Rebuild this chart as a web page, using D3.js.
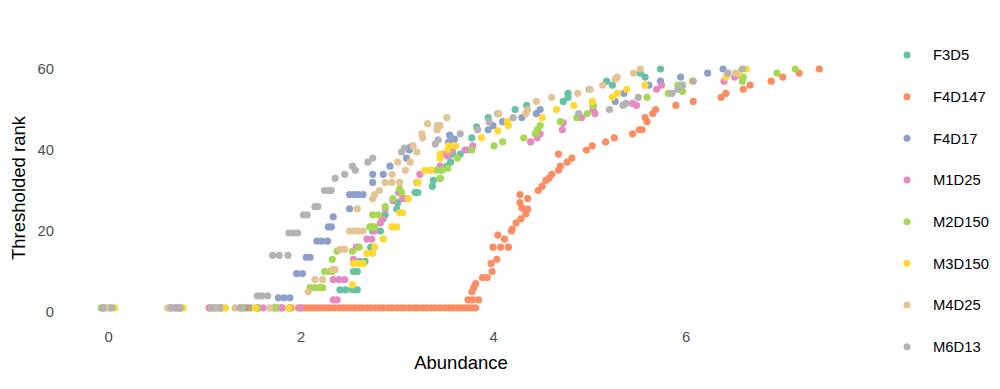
<!DOCTYPE html>
<html>
<head>
<meta charset="utf-8">
<script src="https://cdn.jsdelivr.net/npm/d3@7/dist/d3.min.js"></script>
<style>
  html, body { margin: 0; padding: 0; background: #fff; }
  svg { display: block; font-family: "Liberation Sans", Arial, sans-serif; }
</style>
</head>
<body>
<svg id="chart" width="1000" height="389"></svg>
<script>
// ---- data: [abundance, thresholded rank] ----
const samples = ["F3D5", "F4D147", "F4D17", "M1D25", "M2D150", "M3D150", "M4D25", "M6D13"];
const colors = ["#66C2A5", "#FC8D62", "#8DA0CB", "#E78AC3", "#A6D854", "#FFD92F", "#E5C494", "#B3B3B3"];
const xTicks = [0, 2, 4, 6];
const yTicks = [0, 20, 40, 60];

const F3D5 = [[0.02,1],[0.73,1],[1.18,1],[1.48,1],[1.76,1],[1.89,1],
  [2.41,5.5],[2.47,5.5],[2.54,5.5],[2.59,5.5],[2.55,10],[2.59,10],[2.61,12.5],[2.67,12.5],[2.73,16],
  [2.75,20],[2.83,20],[2.86,23],[2.88,24],[3.0,25.5],[3.01,27],[3.09,28],[3.19,29.5],[3.22,29.5],
  [3.37,31],[3.38,32.5],[3.45,33],[3.46,35],[3.52,36],[3.56,37],[3.58,39],[3.66,39],[3.73,40],
  [3.78,43],[3.83,45.7],[3.95,48],[4.05,49],[4.23,50],[4.35,51],[4.73,52],[4.78,53],[4.78,54],
  [5.0,55],[5.18,57],[5.24,56],[5.53,59],[5.58,58],[5.74,60]];

const F4D147 = [[0.66,1],[0.76,1],[1.05,1],[1.12,1],[1.17,1],[1.38,1],[1.45,1],[1.55,1],[1.72,1],
  [1.80,1],[1.90,1],[1.98,1],[2.02,1],[2.06,1],[2.10,1],[2.14,1],[2.18,1],[2.22,1],[2.26,1],[2.30,1],
  [2.35,1],[2.40,1],[2.44,1],[2.48,1],[2.52,1],[2.56,1],[2.60,1],[2.64,1],[2.69,1],[2.73,1],[2.78,1],
  [2.82,1],[2.86,1],[2.91,1],[2.95,1],[3.00,1],[3.04,1],[3.08,1],[3.13,1],[3.18,1],[3.22,1],[3.27,1],
  [3.31,1],[3.36,1],[3.40,1],[3.45,1],[3.50,1],[3.54,1],[3.58,1],[3.62,1],[3.66,1],[3.70,1],[3.74,1],
  [3.78,1],[3.82,1],
  [3.74,3],[3.79,3],[3.85,3],[3.78,5],[3.80,6],[3.82,7],[3.89,8.5],[3.94,8.5],[3.99,10],[3.98,12],
  [4.04,13],[4.00,16],[4.08,16],[4.16,16],[4.12,18],[4.05,19],[4.19,20],[4.20,20.5],[4.24,22],[4.29,23],
  [4.34,24.2],[4.36,25.4],[4.30,25.7],[4.28,27],[4.36,28],[4.28,29],
  [4.47,30],[4.51,31],[4.55,32.5],[4.58,33],[4.61,34],[4.68,35],[4.70,36],[4.68,39],[4.77,37],[4.82,38],
  [4.97,40],[5.03,41],[5.17,42],[5.26,43],[5.45,44],[5.52,45],[5.55,45],[5.60,47],[5.58,48],[5.66,49],
  [5.69,50],[5.90,51],[6.08,52],[6.37,53],[6.42,54],[6.60,55],[6.67,56],[6.89,57],[7.01,58],[7.18,59],[7.39,60]];

const F4D17 = [[-0.03,1],[0.70,1],[1.11,1],[1.42,1],[1.56,1],
  [1.77,3.5],[1.83,3.5],[1.89,3.5],[1.96,9.5],[2.02,9.5],[2.06,13.5],[2.10,13.5],[2.17,17.5],[2.22,17.5],
  [2.28,17.5],[2.29,21],[2.32,21],[2.34,23.5],[2.51,25.5],[2.51,29],[2.56,29],[2.60,29],[2.65,29],
  [2.75,32],[2.75,34],[2.86,34],[2.93,36],[3.10,38],[3.13,40],[3.14,40.7],[3.54,42],[3.55,43.7],[3.60,42.7],
  [3.95,45],[4.00,46],[4.10,47],[4.30,48],[4.45,49],[4.49,50],[5.04,51],[5.27,52],[5.36,54],[5.62,56],
  [5.74,57],[5.95,58],[6.23,59],[6.39,60]];

const M1D25 = [[-0.06,1],[0.64,1],[0.73,1],[1.06,1],[1.61,1],[1.81,1],[2.00,1],
  [2.34,3],[2.38,3],[2.34,8],[2.40,8],[2.46,8],[2.55,13],[2.58,16],[2.69,18],[2.74,18],[2.77,20],
  [2.83,22],[2.85,23],[2.88,25.5],[2.96,27.5],[3.02,29.5],[3.06,28],[3.21,32],[3.24,34],[3.45,36],
  [3.48,39],[3.53,38.5],[3.58,40],[3.71,40],[3.79,41],[4.39,42],[4.46,43],[4.49,44],[4.72,45],[4.73,46.7],
  [4.92,48],[5.06,49],[5.04,50],[5.45,51.5],[5.49,51],[5.70,55],[5.75,56],[6.40,57],[6.51,58],[6.55,58.5]];

const M2D150 = [[-0.07,1],[0.75,1],[1.10,1],[1.39,1],[1.55,1],[1.74,1],
  [2.10,6],[2.15,6],[2.20,6],[2.23,6],[2.25,10],[2.30,10],[2.33,10],[2.33,13],[2.38,15],[2.54,15],
  [2.61,16],[2.72,21],[2.75,21],[2.77,21],[2.75,24],[2.81,24],[2.88,26],[2.96,28],[3.03,30.5],[3.05,29.5],
  [3.21,32],[3.45,33],[3.35,35],[3.41,35],[3.47,35],[3.53,35.5],[3.63,38],[3.78,40],[4.01,41],[4.10,42],
  [4.32,43],[4.44,44],[4.46,45],[4.49,46],[4.70,47],[4.87,48],[4.98,49],[5.04,51],[5.60,53],[5.82,54],
  [5.97,54.5],[5.92,56],[6.59,57],[6.60,58],[6.95,59],[7.14,60]];

const M3D150 = [[0.07,1],[0.78,1],[1.22,1],[1.53,1],[1.88,1],
  [2.54,6.7],[2.55,12],[2.60,12],[2.65,12],[2.69,14.5],[2.75,14.5],[2.77,16],[2.86,18],[2.95,21],[3.00,21],
  [3.03,24.5],[3.06,24.5],[3.12,28],[3.22,32],[3.29,35],[3.35,35],[3.45,38],[3.45,39],[3.53,40],[3.61,41],
  [3.54,41],[3.88,43],[4.05,44.7],[4.16,46],[4.15,47],[4.51,48],[4.66,50],[4.84,51],[5.03,52],[5.24,53],
  [5.29,54],[5.39,55],[5.58,56],[6.07,57],[6.42,58],[6.55,59],[6.63,60]];

const M4D25 = [[-0.01,1],[0.62,1],[1.08,1],[1.14,1],[1.32,1],[1.68,1],
  [2.08,5],[2.15,8],[2.23,8],[2.33,10.5],[2.36,10.5],[2.41,15.5],[2.46,15.5],[2.51,20],[2.56,20],[2.60,20],
  [2.65,20],[2.59,25.5],[2.75,28],[2.77,29],[2.82,30],[2.88,32],[2.95,32],[3.03,32],[2.95,34],[3.01,37],
  [3.09,35],[3.14,37],[3.17,41],[3.21,39.5],[3.26,44],[3.27,43],[3.32,46.5],[3.42,46],[3.42,45],[3.45,46],
  [3.52,48],[4.06,49],[4.34,49],[4.36,50],[4.45,52],[4.61,53],[4.88,54],[5.01,55],[5.14,56],[5.27,57.5],
  [5.29,58],[5.46,59],[5.53,60],[6.52,59]];

const M6D13 = [[-0.05,1],[0.04,1],[0.66,1],[0.75,1],[1.08,1],[1.16,1],[1.37,1],
  [1.55,4],[1.60,4],[1.66,4],[1.71,14],[1.78,14],[1.87,14],[1.88,19.5],[1.93,19.5],[1.97,19.5],
  [2.03,24],[2.07,24],[2.15,26],[2.18,26],[2.25,30],[2.29,30],[2.32,30],[2.36,33],[2.46,34],[2.54,36],
  [2.57,35],[2.70,37],[2.75,38],[3.05,39.5],[3.08,40.5],[3.40,41.5],[3.43,42.5],[3.66,44],[3.84,45],
  [3.96,47],[4.21,48],[4.89,49],[5.21,50],[5.35,51],[5.38,51.5],[5.51,53],[5.86,54],[5.92,55],[5.97,56],
  [6.08,57],[6.44,59],[6.59,60]];

const seriesData = [F3D5, F4D147, F4D17, M1D25, M2D150, M3D150, M4D25, M6D13];

// ---- layout ----
const svg = d3.select("#chart");
const x = d3.scaleLinear().domain([0, 6]).range([108, 685.5]);
const y = d3.scaleLinear().domain([0, 60]).range([312, 69]);

// points
const gPts = svg.append("g");
seriesData.forEach((pts, i) => {
  gPts.selectAll(null).data(pts).enter().append("circle")
    .attr("cx", d => x(d[0]))
    .attr("cy", d => y(d[1]))
    .attr("r", 3.6)
    .attr("fill", colors[i]);
});

// x axis (labels only)
const xAxis = svg.append("g").attr("transform", "translate(0,331)")
  .call(d3.axisBottom(x).tickValues(xTicks).tickSize(0).tickPadding(0).tickFormat(d3.format("d")));
xAxis.select(".domain").remove();
xAxis.selectAll("text").attr("font-size", 14.8).attr("fill", "#4D4D4D")
  .attr("font-family", "'Liberation Sans', Arial, sans-serif").attr("dy", "0.71em");

// y axis (labels only)
const yAxis = svg.append("g").attr("transform", "translate(54,0)")
  .call(d3.axisLeft(y).tickValues(yTicks).tickSize(0).tickPadding(0).tickFormat(d3.format("d")));
yAxis.select(".domain").remove();
yAxis.selectAll("text").attr("font-size", 14.8).attr("fill", "#4D4D4D")
  .attr("font-family", "'Liberation Sans', Arial, sans-serif");

// axis titles
svg.append("text").attr("x", 461).attr("y", 369).attr("text-anchor", "middle")
  .attr("font-size", 18.5).attr("fill", "#000").text("Abundance");
svg.append("text").attr("transform", "translate(25,188) rotate(-90)").attr("text-anchor", "middle")
  .attr("font-size", 18.5).attr("fill", "#000").text("Thresholded rank");

// legend
const leg = svg.append("g");
const rowY = d3.scalePoint().domain(samples).range([55, 346.7]);
samples.forEach((s, i) => {
  leg.append("circle").attr("cx", 907).attr("cy", rowY(s)).attr("r", 3.5).attr("fill", colors[i]);
  leg.append("text").attr("x", 933).attr("y", rowY(s)).attr("dy", "0.35em")
    .attr("font-size", 14.8).attr("fill", "#000").text(s);
});
</script>
</body>
</html>
